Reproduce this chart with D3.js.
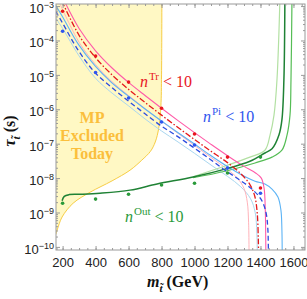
<!DOCTYPE html>
<html>
<head>
<meta charset="utf-8">
<script src="https://cdn.jsdelivr.net/npm/d3@7"></script>
<style>
  html, body { margin: 0; padding: 0; background: #fff; }
  svg { display: block; font-family: 'Liberation Serif', 'DejaVu Serif', serif; }
</style>
</head>
<body>
<div id="chart"></div>
<script>
// ---- data: masses in GeV, lifetimes as log10(tau / s) ----
const massTicks = [200, 400, 600, 800, 1000, 1200, 1400, 1600]
const massMinorTicks = d3.range(200, 1651, 50)
const decadeExponents = [-10, -9, -8, -7, -6, -5, -4, -3]

const sampleMasses = [200, 400, 600, 800, 1000, 1200, 1400]
const trPoints = [-3.15, -4.45, -5.21, -5.97, -6.72, -7.39, -8.29]
const piPoints = [-3.73, -4.93, -5.67, -6.37, -7.04, -7.71, -8.44]
const outPoints = [-8.73, -8.61, -8.47, -8.20, -8.15, -7.85, -7.39]

// n^Tr < 10 contour and its band edges
const trCentral = [[195, -2.85], [300, -3.85], [400, -4.5], [500, -5.0], [600, -5.42], [700, -5.8],
    [800, -6.17], [900, -6.53], [1000, -6.88], [1100, -7.22], [1200, -7.55], [1280, -7.87],
    [1335, -8.18], [1365, -8.52], [1380, -9.0], [1387, -9.8], [1389, -10.5]]
const trUpper = [[205, -2.8], [300, -3.65], [400, -4.3], [500, -4.8], [600, -5.22], [700, -5.6],
    [800, -5.97], [900, -6.33], [1000, -6.68], [1100, -7.02], [1200, -7.35], [1300, -7.66],
    [1370, -7.85], [1405, -8.0], [1422, -8.3], [1429, -8.9], [1432, -9.8], [1433, -10.5]]
const trLower = [[185, -2.95], [300, -4.05], [400, -4.7], [500, -5.2], [600, -5.6], [700, -5.98],
    [800, -6.35], [900, -6.7], [1000, -7.05], [1100, -7.4], [1200, -7.75], [1260, -8.0],
    [1300, -8.3], [1320, -8.7], [1328, -9.3], [1331, -10.5]]

// n^Pi < 10 contour and its band edges
const piCentral = [[158, -3.15], [197, -3.47], [294, -4.28], [394, -4.92], [494, -5.35], [591, -5.73],
    [694, -6.11], [791, -6.46], [894, -6.78], [991, -7.10], [1094, -7.45], [1185, -7.77],
    [1276, -8.06], [1348, -8.32], [1403, -8.61], [1433, -8.99], [1445, -9.51], [1448, -10.5]]
const piUpper = [[158, -2.98], [197, -3.29], [294, -4.10], [397, -4.74], [494, -5.21], [591, -5.59],
    [694, -5.97], [791, -6.31], [894, -6.66], [991, -6.98], [1094, -7.33], [1185, -7.62],
    [1276, -7.88], [1367, -8.09], [1427, -8.17], [1470, -8.32], [1506, -8.55], [1524, -8.93],
    [1530, -9.51], [1532, -10.5]]
const piLower = [[158, -3.35], [200, -3.65], [300, -4.45], [400, -5.1], [500, -5.53], [600, -5.9],
    [700, -6.28], [800, -6.63], [900, -6.95], [1000, -7.28], [1100, -7.62], [1200, -7.95],
    [1280, -8.25], [1340, -8.6], [1368, -9.0], [1378, -9.6], [1381, -10.5]]

// n^Out < 10 contour and its band edges
const outCentral = [[197, -8.66], [210, -8.53], [240, -8.48], [306, -8.47], [427, -8.44], [609, -8.35],
    [773, -8.17], [991, -7.97], [1185, -7.74], [1336, -7.51], [1427, -7.27], [1470, -7.15],
    [1512, -6.75], [1530, -6.31], [1542, -5.15], [1548, -2.8]]
const outUpper = [[991, -7.96], [1185, -7.65], [1336, -7.39], [1427, -7.19], [1458, -6.75],
    [1482, -6.17], [1500, -5.15], [1518, -2.8]]
const outLower = [[991, -7.99], [1185, -7.8], [1367, -7.56], [1470, -7.39], [1530, -7.19],
    [1561, -6.75], [1579, -6.17], [1585, -5.15], [1591, -2.8]]

// edge of the region where MP is excluded today
const excludedEdge = [[802, -2.8], [800, -5.0], [796, -5.9], [783, -6.55], [762, -6.95], [733, -7.22],
    [680, -7.48], [609, -7.77], [500, -8.08], [367, -8.41], [264, -8.73], [197, -9.13],
    [167, -9.51], [150, -9.75]]

/*
* General configuration: size of the picture, frame of the plot
* and the colours of each family of curves
*/
const config = {
    width: 307,
    height: 299,
    plot: { left: 56, right: 305, top: 4, bottom: 250 },
    frameColor: '#9a9a9a',
    tr: { dot: '#e8161e', central: '#e41a1c', upper: '#ff5aa8', lower: '#ffb3ba' },
    pi: { dot: '#2f55ee', central: '#2b4ce0', upper: '#5cb3f5', lower: '#a9d7f0' },
    out: { dot: '#2a9a3a', central: '#1f8235', upper: '#b2e0a2', lower: '#55bd55' },
    mp: '#fbbf3c',
}

const p = config.plot

const x = d3.scaleLinear().domain([160, 1670]).range([p.left, p.right])
const y = d3.scaleLog().domain([Math.pow(10, -10.09), Math.pow(10, -2.94)]).range([p.bottom, p.top])

const svg = d3
    .select('#chart')
    .append('svg')
    .attr('width', config.width)
    .attr('height', config.height)

svg.append('clipPath')
    .attr('id', 'plot-clip')
    .append('rect')
    .attr('x', p.left)
    .attr('y', p.top)
    .attr('width', p.right - p.left)
    .attr('height', p.bottom - p.top)

const plot = svg.append('g').attr('clip-path', 'url(#plot-clip)')

const line = d3
    .line()
    .x((d) => x(d[0]))
    .y((d) => y(Math.pow(10, d[1])))
    .curve(d3.curveCatmullRom.alpha(0.5))

// yellow excluded region, closed along the left border
const excludedArea = excludedEdge.concat([[100, -9.75], [100, -2.5], [802, -2.5]])
plot.append('path')
    .attr('d', line(excludedArea))
    .attr('fill', '#fff8c4')

const curves = [
    { data: excludedEdge, color: '#f7cd45', width: 1 },
    { data: piLower, color: config.pi.lower, width: 1 },
    { data: trLower, color: config.tr.lower, width: 1 },
    { data: outUpper, color: config.out.upper, width: 1.2 },
    { data: outLower, color: config.out.lower, width: 1.2 },
    { data: piUpper, color: config.pi.upper, width: 1.1 },
    { data: trUpper, color: config.tr.upper, width: 1.1 },
    { data: outCentral, color: config.out.central, width: 1.5 },
    { data: piCentral, color: config.pi.central, width: 1.3, dash: '5,3' },
    { data: trCentral, color: config.tr.central, width: 1.3, dash: '6,2,1.5,2' },
]

plot.selectAll('path.curve')
    .data(curves)
    .enter()
    .append('path')
    .attr('class', 'curve')
    .attr('d', (d) => line(d.data))
    .attr('fill', 'none')
    .attr('stroke', (d) => d.color)
    .attr('stroke-width', (d) => d.width)
    .attr('stroke-dasharray', (d) => d.dash || null)

// sample points
const dotSets = [
    { values: outPoints, color: config.out.dot },
    { values: piPoints, color: config.pi.dot },
    { values: trPoints, color: config.tr.dot },
]
dotSets.forEach((set) => {
    plot.selectAll(null)
        .data(sampleMasses.map((m, i) => [m, set.values[i]]))
        .enter()
        .append('circle')
        .attr('cx', (d) => x(d[0]))
        .attr('cy', (d) => y(Math.pow(10, d[1])))
        .attr('r', 1.8)
        .attr('fill', set.color)
})

// MP excluded label
const mpText = svg.append('text')
    .attr('text-anchor', 'middle')
    .attr('font-weight', 'bold')
    .attr('font-size', 16)
    .attr('fill', config.mp)
;['MP', 'Excluded', 'Today'].forEach((t, i) => {
    mpText.append('tspan').attr('x', 92).attr('y', 123 + i * 18).text(t)
})

// contour labels n^X < 10
const contourLabel = (px, py, sup, color) => {
    const t = svg.append('text')
        .attr('x', px)
        .attr('y', py)
        .attr('font-size', 16)
        .attr('fill', color)
    t.append('tspan').attr('font-style', 'italic').text('n')
    t.append('tspan').attr('font-size', 11).attr('dy', -7).attr('dx', 1).text(sup)
    t.append('tspan').attr('dy', 7).text(' < 10')
}
contourLabel(140, 87, 'Tr', config.tr.dot)
contourLabel(203, 122, 'Pi', config.pi.dot)
contourLabel(125, 222, 'Out', config.out.dot)

// frame
svg.append('rect')
    .attr('x', p.left)
    .attr('y', p.top)
    .attr('width', p.right - p.left)
    .attr('height', p.bottom - p.top)
    .attr('fill', 'none')
    .attr('stroke', config.frameColor)

// axes with ticks pointing inward
const decades = decadeExponents.map((e) => Math.pow(10, e))
const minorDecades = []
decadeExponents.forEach((e) => {
    for (let k = 2; k <= 9; k++) {
        const v = k * Math.pow(10, e - 1)
        if (v >= y.domain()[0]) minorDecades.push(v)
    }
})
minorDecades.push(...[2, 3, 4, 5, 6, 7, 8, 9].map((k) => k * 1e-3).filter((v) => v <= y.domain()[1]))

const axisSpecs = [
    { axis: d3.axisBottom(x).tickValues(massTicks).tickFormat(d3.format('d')), at: [0, p.bottom], size: -4, pad: 8 },
    { axis: d3.axisBottom(x).tickValues(massMinorTicks).tickFormat(''), at: [0, p.bottom], size: -2 },
    { axis: d3.axisTop(x).tickValues(massTicks).tickFormat(''), at: [0, p.top], size: -4 },
    { axis: d3.axisTop(x).tickValues(massMinorTicks).tickFormat(''), at: [0, p.top], size: -2 },
    { axis: d3.axisLeft(y).tickValues(decades).tickFormat(''), at: [p.left, 0], size: -4, pad: 2, name: 'y-left' },
    { axis: d3.axisLeft(y).tickValues(minorDecades).tickFormat(''), at: [p.left, 0], size: -2 },
    { axis: d3.axisRight(y).tickValues(decades).tickFormat(''), at: [p.right, 0], size: -4 },
    { axis: d3.axisRight(y).tickValues(minorDecades).tickFormat(''), at: [p.right, 0], size: -2 },
]
axisSpecs.forEach((s) => {
    const g = svg.append('g')
        .attr('transform', `translate(${s.at[0]},${s.at[1]})`)
        .call(s.axis.tickSizeInner(s.size).tickSizeOuter(0).tickPadding(s.pad || 3))
    g.select('.domain').remove()
    g.selectAll('line').attr('stroke', config.frameColor)
    g.selectAll('text').attr('font-family', null).attr('font-size', 13).attr('fill', '#222')
    if (s.name === 'y-left') {
        g.selectAll('text')
            .each(function (d) {
                const t = d3.select(this)
                const e = Math.round(Math.log10(d))
                t.text(null)
                t.append('tspan').text('10')
                t.append('tspan').attr('font-size', 9).attr('dy', -5).text('\u2212' + Math.abs(e))
            })
            .attr('dy', '0.5em')
    }
})

// axis titles, subscript t carries a combining tilde
const titleWithTilde = (sel, main, rest) => {
    sel.append('tspan').attr('font-style', 'italic').text(main)
    sel.append('tspan').attr('font-style', 'italic').attr('font-size', 11).attr('dy', 5).text('t\u0303')
    sel.append('tspan').attr('dy', -5).text(rest)
}

const xTitle = svg.append('text')
    .attr('x', 147)
    .attr('y', 287)
    .attr('font-size', 16)
    .attr('font-weight', 'bold')
    .attr('fill', '#111')
titleWithTilde(xTitle, 'm', ' (GeV)')

const yTitle = svg.append('text')
    .attr('transform', 'translate(15,131) rotate(-90)')
    .attr('text-anchor', 'middle')
    .attr('font-size', 16)
    .attr('font-weight', 'bold')
    .attr('fill', '#111')
titleWithTilde(yTitle, '\u03c4', ' (s)')
</script>
</body>
</html>
